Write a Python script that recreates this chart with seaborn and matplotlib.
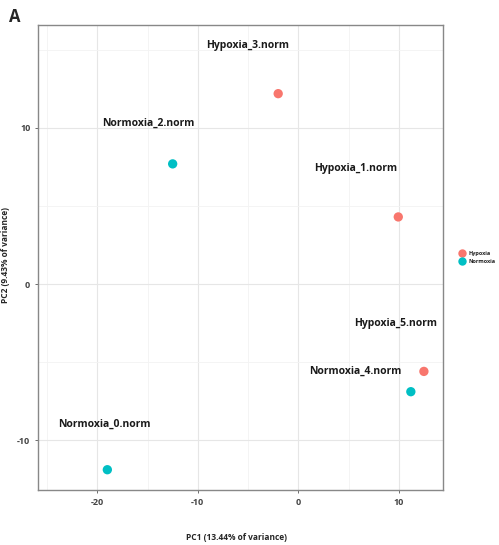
import pandas as pd
import matplotlib.pyplot as plt
import seaborn as sns
from matplotlib.ticker import MultipleLocator

# PCA scores
samples = ['Hypoxia_3.norm', 'Normoxia_2.norm', 'Hypoxia_1.norm',
           'Hypoxia_5.norm', 'Normoxia_4.norm', 'Normoxia_0.norm']
groups = ['Hypoxia', 'Normoxia', 'Hypoxia', 'Hypoxia', 'Normoxia', 'Normoxia']
pc1 = [-2.0, -12.5, 9.95, 12.5, 11.2, -19.0]
pc2 = [12.2, 7.7, 4.3, -5.6, -6.9, -11.9]
# repelled label positions
label_x = [-5.0, -14.9, 5.7, 9.7, 5.7, -19.3]
label_y = [15.3, 10.3, 7.4, -2.5, -5.6, -9.0]

df = pd.DataFrame({'sample': samples, 'group': groups, 'PC1': pc1, 'PC2': pc2})

sns.set_style('whitegrid')
plt.rcParams['font.family'] = ['Open Sans', 'DejaVu Sans']
plt.rcParams['axes.unicode_minus'] = False

fig = plt.figure(figsize=(4.99, 5.45), dpi=100)
ax = fig.add_axes([38 / 499, 1 - 490 / 545, 405 / 499, 465 / 545])

sns.scatterplot(data=df, x='PC1', y='PC2', hue='group',
                palette={'Hypoxia': '#F8766D', 'Normoxia': '#00BFC4'},
                s=45, edgecolor='none', ax=ax)

for name, lx, ly in zip(samples, label_x, label_y):
    ax.text(lx, ly, name, ha='center', va='center', fontsize=7.5,
            fontweight='bold', color='#1a1a1a')

ax.set_xlim(-25.9, 14.4)
ax.set_ylim(-13.2, 16.6)
ax.xaxis.set_major_locator(MultipleLocator(10))
ax.yaxis.set_major_locator(MultipleLocator(10))
ax.xaxis.set_minor_locator(MultipleLocator(5))
ax.yaxis.set_minor_locator(MultipleLocator(5))
ax.grid(which='major', color='#e6e6e6', linewidth=0.8)
ax.grid(which='minor', color='#f3f3f3', linewidth=0.6)
ax.tick_params(which='major', labelsize=6.5, length=2, width=0.6,
               color='#555555', labelcolor='#444444', left=True, bottom=True)
ax.tick_params(which='minor', length=0)
for t in ax.get_xticklabels() + ax.get_yticklabels():
    t.set_fontweight('bold')
for sp in ax.spines.values():
    sp.set_color('#888888')
    sp.set_linewidth(1.0)

ax.set_xlabel('PC1 (13.44% of variance)', fontsize=6, fontweight='bold')
ax.set_ylabel('PC2 (9.43% of variance)', fontsize=6, fontweight='bold')
ax.xaxis.set_label_coords(0.49, -0.092)
ax.yaxis.set_label_coords(-0.069, 0.505)

leg = ax.legend(loc='center left', bbox_to_anchor=(1.02, 0.5), frameon=False,
                fontsize=4, markerscale=0.9, handletextpad=0.3,
                labelspacing=0.6, title=None)
for t in leg.get_texts():
    t.set_fontweight('bold')

fig.text(15 / 499, 1 - 17 / 545, 'A', fontsize=12, fontweight='bold',
         ha='center', va='center')

plt.savefig('out.png', dpi=100)
